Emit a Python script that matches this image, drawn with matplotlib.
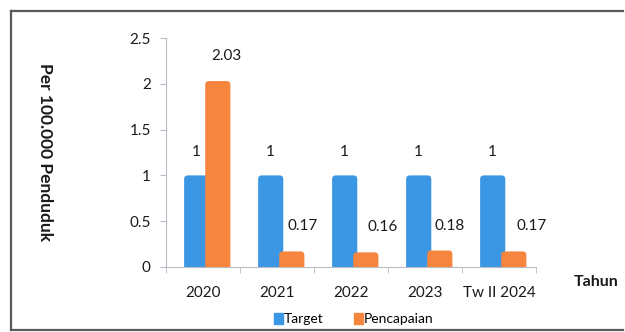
import matplotlib
matplotlib.use("Agg")
import matplotlib.pyplot as plt
from matplotlib.lines import Line2D
from matplotlib.patches import Patch, FancyBboxPatch
import numpy as np

categories = ["2020", "2021", "2022", "2023", "Tw II 2024"]
target = [1, 1, 1, 1, 1]
pencapaian = [2.03, 0.17, 0.16, 0.18, 0.17]
target_labels = ["1", "1", "1", "1", "1"]
pencapaian_labels = ["2.03", "0.17", "0.16", "0.18", "0.17"]
yticks = [0, 0.5, 1, 1.5, 2, 2.5]
ytick_labels = ["0", "0.5", "1", "1.5", "2", "2.5"]

plt.rcParams['font.family'] = ['Lato', 'DejaVu Sans']

blue = "#3b96e3"
orange = "#f6853f"
axis_col = "#b9bcc4"
txt = "#1a1a1a"

fig = plt.figure(figsize=(6.25, 3.32), dpi=100)
ax = fig.add_axes([166/625, 1-267/332, 370/625, 229/332])

x = np.arange(len(categories))
w = 0.34
b1 = ax.bar(x - 0.085, target, width=w, color=blue, zorder=2)
b2 = ax.bar(x + 0.2, pencapaian, width=w, color=orange, zorder=3)

# round the bar tops
aspect = 74 / 91.6
for bars, col, z in [(b1, blue, 2), (b2, orange, 3)]:
    for r in bars:
        r.set_visible(False)
        bx, by = r.get_x(), r.get_y()
        bw, bh = r.get_width(), r.get_height()
        p = FancyBboxPatch((bx, by - 0.08), bw, bh + 0.08,
                           boxstyle="round,pad=0,rounding_size=0.05",
                           mutation_aspect=aspect, facecolor=col, edgecolor="none",
                           zorder=z)
        ax.add_patch(p)

for xi, v, lab in zip(x, target, target_labels):
    ax.annotate(lab, (xi - 0.085, v), xytext=(0, 17), textcoords="offset points",
                ha="center", va="center", fontsize=11, color=txt)
offs = [6, 8, 12, 7, 13]
for xi, v, lab, o in zip(x, pencapaian, pencapaian_labels, offs):
    ax.annotate(lab, (xi + 0.2, v), xytext=(o, 18), textcoords="offset points",
                ha="center", va="center", fontsize=11, color=txt)

ax.set_xlim(-0.5, len(categories) - 0.5)
ax.set_ylim(0, 2.5)
ax.set_yticks(yticks)
ax.set_yticklabels(ytick_labels, fontsize=11, color=txt)
ax.set_xticks(x)
ax.set_xticklabels(categories, fontsize=11, color=txt)
ax.tick_params(axis="x", length=0, pad=14)
ax.tick_params(axis="y", length=4, color=axis_col, pad=7)
ax.set_xticks(np.arange(-0.5, len(categories), 1), minor=True)
ax.tick_params(axis="x", which="minor", length=4, color=axis_col, direction="out")

for s in ["top", "right"]:
    ax.spines[s].set_visible(False)
ax.spines["left"].set_color(axis_col)
ax.spines["bottom"].set_color(axis_col)

fig.text(45/625, 1-152/332, "Per 100.000 Penduduk", rotation=270, ha="center", va="center",
         fontsize=12.5, fontweight="bold", color=txt)
fig.text(596/625, 1-282/332, "Tahun", ha="center", va="center",
         fontsize=11.5, fontweight="bold", color=txt)

handles = [Patch(color=blue, label="Target"), Patch(color=orange, label="Pencapaian")]
fig.legend(handles=handles, loc="center", bbox_to_anchor=(354/625, 1-319/332), ncol=2,
           frameon=False, fontsize=10, handlelength=0.6, handleheight=0.8,
           handletextpad=0.1, columnspacing=2.2, borderaxespad=0)

fc = "#5a5a5a"
fig.add_artist(Line2D([11/625, 623/625], [1-11/332, 1-11/332], color=fc, lw=1.6, transform=fig.transFigure))
fig.add_artist(Line2D([11/625, 11/625], [1-11/332, 1-330/332], color=fc, lw=1.6, transform=fig.transFigure))
fig.add_artist(Line2D([11/625, 623/625], [1-330/332, 1-330/332], color=fc, lw=1.6, transform=fig.transFigure))

fig.savefig("out.png", dpi=100)
